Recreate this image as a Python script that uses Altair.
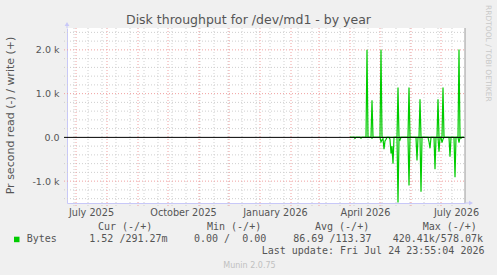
import altair as alt
import pandas as pd

# ---------------- data ----------------
TITLE = "Disk throughput for /dev/md1 - by year"
Y_TITLE = "Pr second read (-) / write (+)"
WATERMARK = "RRDTOOL / TOBI OETIKER"

domain_start = "2025-06-22"
domain_end = "2026-07-25"

series_start = "2026-04-01"   # daily samples from here
write_vals = [
    0, 0, 0, 0, 0, 0, 0, 0, 0, 0,
    0, 0, 0, 0, 0, 0, 0, 2000, 0, 0,
    0, 0, 850, 0, 0, 0, 0, 0, 0, 0,
    0, 2000, 0, 0, 0, 0, 0, 0, 0, 0,
    0, 0, 0, 0, 0, 0, 0, 0, 1140, 0,
    0, 0, 0, 0, 0, 0, 0, 0, 0, 1140,
    0, 0, 0, 0, 0, 0, 0, 0, 0, 0,
    870, 0, 0, 0, 0, 0, 0, 0, 0, 0,
    0, 0, 0, 0, 0, 0, 0, 0, 870, 0,
    0, 0, 0, 1140, 0, 0, 0, 0, 0, 0,
    0, 0, 0, 0, 0, 0, 0, 0, 0, 2010,
    0, 0, 0, 0, 0,
]
read_vals = [  # drawn negative
    0, 0, 0, 0, 0, -25, 0, 0, 0, 0,
    0, -20, 0, 0, 0, 0, 0, 0, 0, 0,
    0, 0, -20, 0, 0, 0, 0, 0, 0, 0,
    0, -100, -60, -30, -270, -80, -50, 0, 0, 0,
    -40, -370, -200, -600, 0, 0, 0, 0, -1490, -30,
    -60, 0, 0, 0, 0, 0, 0, 0, 0, -1100,
    0, 0, 0, 0, 0, 0, 0, -530, 0, 0,
    0, -1240, 0, 0, 0, 0, 0, 0, 0, -100,
    -250, 0, 0, 0, 0, -730, 0, 0, 0, -330,
    0, 0, -120, -40, 0, 0, 0, 0, 0, 0,
    -440, 0, 0, 0, 0, -910, 0, 0, 0, -120,
    0, -20, 0, 0, 0,
]

y_ticks = [-1000, 0, 1000, 2000]
y_major_grid = [-1000, 1000, 2000]
y_minor_grid = [v for v in range(-1400, 2500, 200) if v % 1000 != 0]
x_label_dates = ["2025-07-16", "2025-10-16", "2026-01-16", "2026-04-16", "2026-07-16"]
month_starts = ["2025-07-01", "2025-08-01", "2025-09-01", "2025-10-01", "2025-11-01",
                "2025-12-01", "2026-01-01", "2026-02-01", "2026-03-01", "2026-04-01",
                "2026-05-01", "2026-06-01", "2026-07-01"]
minor_x_start = "2025-06-29"  # fortnightly grid

legend_name = "Bytes"
legend_headers = ["Cur (-/+)", "Min (-/+)", "Avg (-/+)", "Max (-/+)"]
legend_values = ["1.52 /291.27m", "0.00 /  0.00", "86.69 /113.37", "420.41k/578.07k"]
last_update = "Last update: Fri Jul 24 23:55:04 2026"
version = "Munin 2.0.75"

# ---------------- layout ----------------
W, H = 398, 175
PAD_L, PAD_T = 67, 28
GREEN = "#00cc00"
TXT = "#555555"
AXIS_BLUE = "#c8c8f8"
TICK_OUT = 3


def dt(s):
    y, m, d = (int(p) for p in s.split("-"))
    return alt.DateTime(year=y, month=m, date=d)


dates = pd.date_range(series_start, periods=len(write_vals), freq="D").strftime("%Y-%m-%dT%H:%M:%S")
df = pd.concat([
    pd.DataFrame({"date": dates, "value": write_vals, "series": "write"}),
    pd.DataFrame({"date": dates, "value": read_vals, "series": "read"}),
])

xscale = alt.Scale(domain=[dt(domain_start), dt(domain_end)])
yscale = alt.Scale(domain=[-1500, 2500], nice=False, zero=False)

XAXIS = alt.Axis(values=[dt(s) for s in x_label_dates], format="%B %Y",
                 labelFlush=False, grid=False, ticks=False, domainColor=AXIS_BLUE,
                 labelPadding=4, labelFontSize=9.7, labelColor=TXT,
                 labelFont="DejaVu Sans", labelOverlap=False, title=None)
YAXIS = alt.Axis(values=y_ticks, grid=False, ticks=False, domainColor=AXIS_BLUE,
                 labelPadding=8, labelFontSize=9.5, labelColor=TXT,
                 labelFont="DejaVu Sans", title=None,
                 labelExpr="datum.value == 0 ? '0.0' : (datum.value < 0 ? '-' : '') + format(abs(datum.value) / 1000, '.1f') + ' k'")


def X(field):
    return alt.X(field, scale=xscale, axis=XAXIS, title=None)


def Y(field):
    return alt.Y(field, scale=yscale, axis=YAXIS, title=None)


minor_x = pd.date_range(minor_x_start, domain_end, freq="14D").strftime("%Y-%m-%dT%H:%M:%S")

grid_minor_x = alt.Chart(pd.DataFrame({"d": minor_x})).mark_rule(
    color="#cfcfcf", strokeDash=[1, 2], strokeWidth=1).encode(
    x=X("d:T"), y=alt.value(0), y2=alt.value(H + TICK_OUT))
grid_minor_y = alt.Chart(pd.DataFrame({"v": y_minor_grid})).mark_rule(
    color="#cfcfcf", strokeDash=[1, 2], strokeWidth=1).encode(
    y=Y("v:Q"), x=alt.value(-TICK_OUT), x2=alt.value(W))
grid_major_x = alt.Chart(pd.DataFrame({"d": [s + "T00:00:00" for s in month_starts]})).mark_rule(
    color="#f0a0a0", strokeDash=[1, 2], strokeWidth=1).encode(
    x=X("d:T"), y=alt.value(0), y2=alt.value(H + TICK_OUT))
grid_major_y = alt.Chart(pd.DataFrame({"v": y_major_grid})).mark_rule(
    color="#f0a0a0", strokeDash=[1, 2], strokeWidth=1).encode(
    y=Y("v:Q"), x=alt.value(-TICK_OUT), x2=alt.value(W))

line = alt.Chart(df).mark_line(color=GREEN, strokeWidth=1.2, interpolate="linear").encode(
    x=X("date:T"), y=Y("value:Q"), detail="series:N")

zero = alt.Chart(pd.DataFrame({"v": [0]})).mark_rule(color="black", strokeWidth=1).encode(
    y=Y("v:Q"), x=alt.value(-TICK_OUT), x2=alt.value(W))

right_border = alt.Chart(pd.DataFrame({"d": [domain_end + "T00:00:00"]})).mark_rule(
    color="#9a9a9a", strokeWidth=1).encode(
    x=X("d:T"), y=alt.value(0), y2=alt.value(H))

one = pd.DataFrame({"a": [0]})
x_axis_ext = alt.Chart(one).mark_rule(color=AXIS_BLUE).encode(
    x=alt.value(W), x2=alt.value(W + 4), y=alt.value(H))
y_axis_ext = alt.Chart(one).mark_rule(color=AXIS_BLUE).encode(
    x=alt.value(0), y=alt.value(-2), y2=alt.value(0))
arrow_up = alt.Chart(one).mark_point(shape="triangle-up", filled=True, color=AXIS_BLUE,
                                     size=22, opacity=1).encode(x=alt.value(0), y=alt.value(-4))
arrow_right = alt.Chart(one).mark_point(shape="triangle-right", filled=True, color=AXIS_BLUE,
                                        size=22, opacity=1).encode(x=alt.value(W + 6), y=alt.value(H))


def text_at(txt, x, y, size=10, font="DejaVu Sans Mono", color=TXT, align="left",
            baseline="alphabetic", angle=0):
    kw = dict(fontSize=size, font=font, color=color, align=align, baseline=baseline)
    if angle:
        kw["angle"] = angle
    shown = txt.replace("  ", " \u00a0")
    return alt.Chart(pd.DataFrame({"t": [shown]})).mark_text(**kw).encode(
        text="t:N", x=alt.value(x - PAD_L), y=alt.value(y - PAD_T))


texts = [
    text_at(TITLE, 248.5, 24, size=12.5, font="DejaVu Sans", align="center"),
    text_at(Y_TITLE, 10.5, 115.5, size=11, font="DejaVu Sans", align="center",
            baseline="middle", angle=270),
    text_at(WATERMARK, 488, 5, size=7.5, font="DejaVu Sans", color="#c8c8c8",
            align="left", baseline="middle", angle=90),
    text_at(legend_name, 26.7, 242),
    text_at(last_update, 261.7, 254),
    text_at(version, 223.3, 267.5, size=8, font="DejaVu Sans", color="#c0c0c0"),
]
for h, x in zip(legend_headers, [98, 207, 315, 422.7]):
    texts.append(text_at(h, x, 229.5))
for v, x in zip(legend_values, [89.3, 194, 293.3, 392.7]):
    texts.append(text_at(v, x, 242))

swatch = alt.Chart(one).mark_rect(color=GREEN).encode(
    x=alt.value(14 - PAD_L), x2=alt.value(19.5 - PAD_L),
    y=alt.value(236.7 - PAD_T), y2=alt.value(242.2 - PAD_T))

chart = alt.layer(
    grid_minor_x, grid_minor_y, grid_major_x, grid_major_y,
    line, zero, right_border, x_axis_ext, y_axis_ext, arrow_up, arrow_right,
    swatch, *texts,
).properties(
    width=W, height=H,
    autosize=alt.AutoSizeParams(type="none"),
    padding={"left": PAD_L, "top": PAD_T, "right": 497 - PAD_L - W, "bottom": 275 - PAD_T - H},
    background="#f0f0f0",
).configure_view(fill="white", stroke=None).configure_axis(domainWidth=1)

chart.save("out.html", embed_options={"renderer": "svg", "actions": False})
